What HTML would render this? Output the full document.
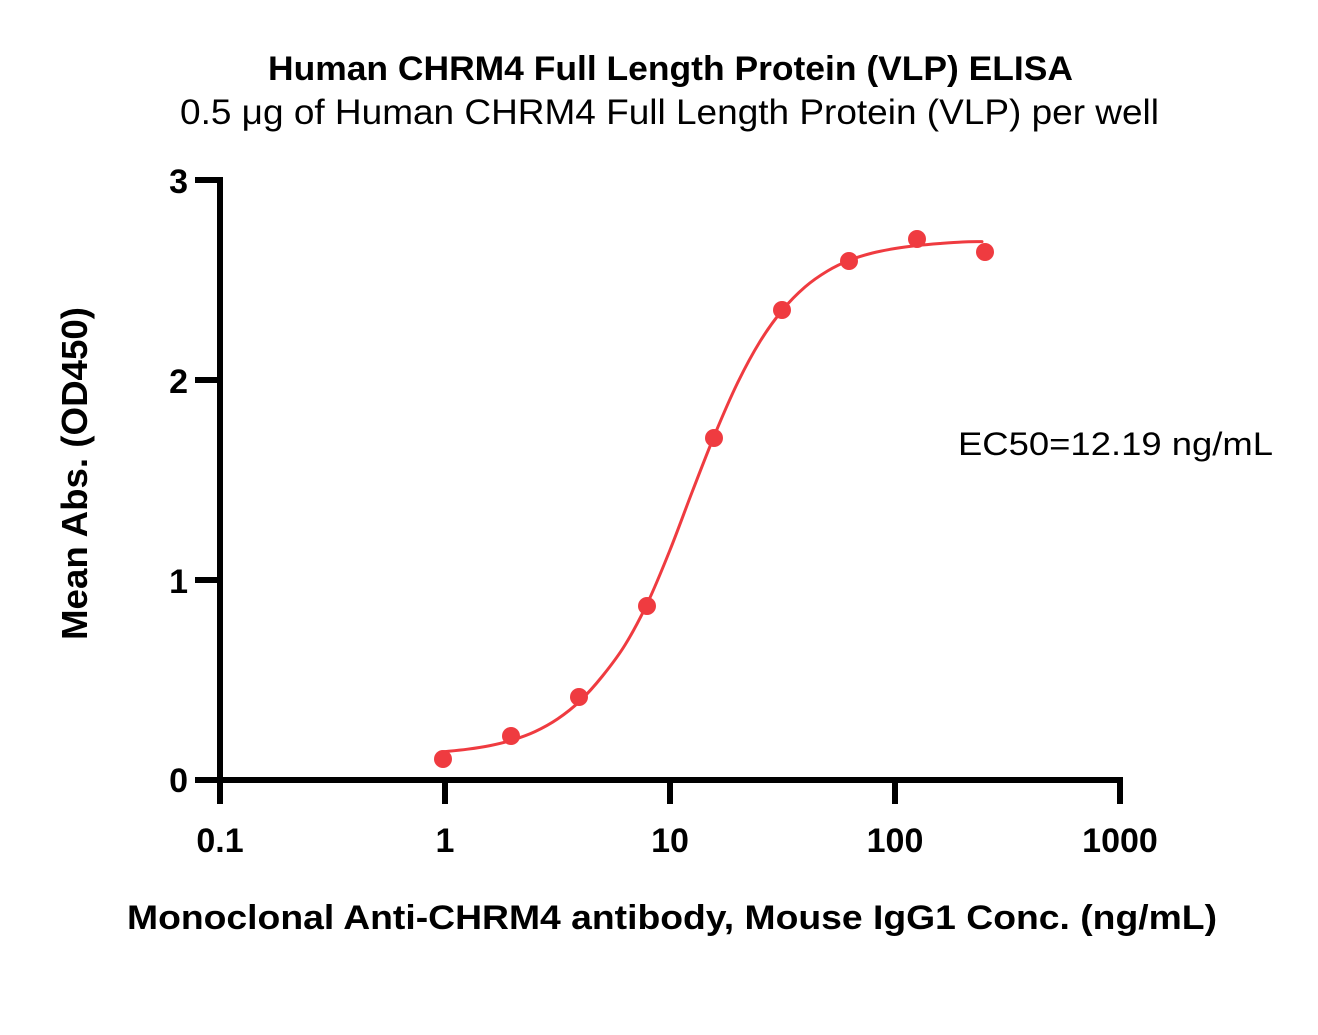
<!DOCTYPE html>
<html>
<head>
<meta charset="utf-8">
<style>
html,body{margin:0;padding:0;background:#fff;}
svg{display:block;}
text{font-family:"Liberation Sans",Arial,sans-serif;fill:#000;}
</style>
</head>
<body>
<svg width="1318" height="1035" viewBox="0 0 1318 1035" xmlns="http://www.w3.org/2000/svg">
<rect width="1318" height="1035" fill="#fff"/>
<!-- Titles -->
<text x="268" y="80" font-size="34" font-weight="bold" textLength="805" lengthAdjust="spacingAndGlyphs">Human CHRM4 Full Length Protein (VLP) ELISA</text>
<text x="180" y="124" font-size="35" textLength="979" lengthAdjust="spacingAndGlyphs">0.5 μg of Human CHRM4 Full Length Protein (VLP) per well</text>

<!-- Axes -->
<g stroke="#000" stroke-width="6" fill="none" stroke-linecap="butt">
  <line x1="220" y1="177" x2="220" y2="804"/>
  <line x1="195" y1="780" x2="1123" y2="780"/>
  <line x1="195" y1="180" x2="220" y2="180"/>
  <line x1="195" y1="380" x2="220" y2="380"/>
  <line x1="195" y1="580" x2="220" y2="580"/>
  <line x1="445" y1="780" x2="445" y2="804"/>
  <line x1="670" y1="780" x2="670" y2="804"/>
  <line x1="895" y1="780" x2="895" y2="804"/>
  <line x1="1120" y1="780" x2="1120" y2="804"/>
</g>

<!-- Y tick labels -->
<g font-size="34" font-weight="bold" text-anchor="end">
  <text x="188" y="193">3</text>
  <text x="188" y="393">2</text>
  <text x="188" y="593">1</text>
  <text x="188" y="792">0</text>
</g>
<!-- X tick labels -->
<g font-size="34" font-weight="bold" text-anchor="middle">
  <text x="220" y="852">0.1</text>
  <text x="445" y="852">1</text>
  <text x="670" y="852">10</text>
  <text x="895" y="852">100</text>
  <text x="1120" y="852">1000</text>
</g>

<!-- Axis titles -->
<text x="127" y="929" font-size="34" font-weight="bold" textLength="1090" lengthAdjust="spacingAndGlyphs">Monoclonal Anti-CHRM4 antibody, Mouse IgG1 Conc. (ng/mL)</text>
<text transform="translate(87,640) rotate(-90)" x="0" y="0" font-size="36" font-weight="bold" textLength="333" lengthAdjust="spacingAndGlyphs">Mean Abs. (OD450)</text>

<!-- EC50 -->
<text x="958" y="455" font-size="32" textLength="315" lengthAdjust="spacingAndGlyphs">EC50=12.19 ng/mL</text>

<!-- Fitted curve -->
<path fill="none" stroke="#EF3B40" stroke-width="3" stroke-linecap="round" d="M445,751.6
C452.5,750.87 460,750.2 467.5,749.2
C475,748.2 482.5,747.13 490,745.6
C497.5,744.07 505,742.33 512.5,740
C520,737.67 527.5,735.1 535,731.6
C542.5,728.1 550,724.1 557.5,719
C565,713.9 572.5,708.17 580,701
C587.5,693.83 595,685.33 602.5,676
C610,666.67 617.5,657.17 625,645
C632.5,632.83 640,618.83 647.5,603
C655,587.17 662.5,568.67 670,550
C677.5,531.33 685,510.33 692.5,491
C700,471.67 707.5,452 715,434
C722.5,416 730,398.42 737.5,383
C745,367.58 752.5,353.67 760,341.5
C767.5,329.33 775,319.08 782.5,310
C790,300.92 797.5,293.5 805,287
C812.5,280.5 820,275.5 827.5,271
C835,266.5 842.5,263 850,260
C857.5,257 865,254.92 872.5,253
C880,251.08 887.5,249.75 895,248.5
C902.5,247.25 910,246.33 917.5,245.5
C925,244.67 932.5,244.08 940,243.5
C947.5,242.92 955,242.32 962.5,242
C969,241.68 975.5,241.7 982,241.6"/>

<!-- Data points -->
<g fill="#EF3B40">
  <circle cx="443" cy="759" r="9"/>
  <circle cx="511" cy="736" r="9"/>
  <circle cx="579" cy="697" r="9"/>
  <circle cx="647" cy="606" r="9"/>
  <circle cx="714" cy="438" r="9"/>
  <circle cx="782" cy="310" r="9"/>
  <circle cx="849" cy="261" r="9"/>
  <circle cx="917" cy="239" r="9"/>
  <circle cx="985" cy="252" r="9"/>
</g>
</svg>
</body>
</html>
